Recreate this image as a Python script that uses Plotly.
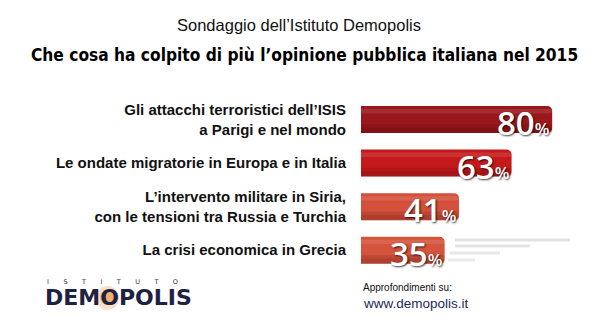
import plotly.graph_objects as go

# ---- data ----
categories = [
    "Gli attacchi terroristici dell’ISIS<br>a Parigi e nel mondo",
    "Le ondate migratorie in Europa e in Italia",
    "L’intervento militare in Siria,<br>con le tensioni tra Russia e Turchia",
    "La crisi economica in Grecia",
]
values = [80, 63, 41, 35]
bar_colors = ["#9A171C", "#C51A1B", "#D4503B", "#D5543E"]

W, H = 600, 330
ML, MR, MT, MB = 361, 0, 92, 58
PW, PH = W - ML - MR, H - MT - MB


def px(xp):
    return (xp - ML) / PW


def py(yp):
    return (H - MB - yp) / PH


fig = go.Figure()

fig.add_trace(go.Bar(
    x=values, y=categories, orientation="h",
    marker=dict(color=bar_colors, line=dict(width=0)),
    width=0.62, offset=-0.31, hoverinfo="skip",
))
fig.add_trace(go.Bar(
    x=values, y=categories, orientation="h",
    marker=dict(color="rgba(40,0,0,0.22)", line=dict(width=0)),
    width=0.12, offset=0.19, hoverinfo="skip",
))
fig.add_trace(go.Bar(
    x=values, y=categories, orientation="h",
    marker=dict(color="rgba(40,0,0,0.12)", line=dict(width=0)),
    width=0.08, offset=0.11, hoverinfo="skip",
))
fig.add_trace(go.Bar(
    x=values, y=categories, orientation="h",
    marker=dict(color="rgba(255,255,255,0.10)", line=dict(width=0)),
    width=0.1, offset=-0.24, hoverinfo="skip",
))

annotations = []
for cat, v in zip(categories, values):
    annotations.append(dict(
        x=v, y=cat, xref="x", yref="y", xanchor="right", yanchor="middle",
        xshift=-1, yshift=-3, showarrow=False,
        text=f"{v}<span style='font-size:17px'>%</span>",
        font=dict(family="Open Sans", size=33, color="white", weight=600,
                  shadow="1px 1px 2px rgba(0,0,0,0.75)"),
    ))


def txt(x, y, text, font, xanchor="left"):
    return dict(x=px(x), y=py(y), xref="paper", yref="paper", xanchor=xanchor,
                yanchor="middle", showarrow=False, text=text, font=font)


spaced = "&nbsp;" * 7
annotations += [
    txt(299, 25, "Sondaggio dell’Istituto Demopolis",
        dict(family="Liberation Sans", size=16.5, color="#111"), "center"),
    txt(304, 55, "<b>Che cosa ha colpito di più l’opinione pubblica italiana nel 2015</b>",
        dict(family="Liberation Sans Narrow, DejaVu Sans Condensed", size=17.2, color="#000"), "center"),
    txt(45, 282, spaced.join("ISTITUTO"),
        dict(family="DejaVu Sans", size=6.5, color="#333")),
    txt(43, 297, "<b>DEMOPOLIS</b>",
        dict(family="DejaVu Sans", size=22, color="#1E2142")),
    txt(361, 287, "Approfondimenti su:",
        dict(family="Liberation Sans", size=10, color="#111")),
    txt(361, 303, "www.demopolis.it",
        dict(family="Liberation Sans", size=13.5, color="#1A2A5C")),
]

shapes = [
    dict(type="circle", xref="paper", yref="paper",
         x0=px(96), x1=px(119), y0=py(310), y1=py(286),
         fillcolor="rgba(235,150,60,0.30)", line=dict(width=0), layer="below"),
    dict(type="circle", xref="paper", yref="paper",
         x0=px(100), x1=px(115), y0=py(305), y1=py(290),
         fillcolor="rgba(230,140,40,0.55)", line=dict(width=0), layer="below"),
]
for x0, x1, yy, op, lw in [(455, 570, 240, 0.18, 3), (455, 530, 246, 0.16, 3),
                           (450, 500, 253, 0.14, 3), (448, 475, 260, 0.12, 3)]:
    shapes.append(dict(type="line", xref="paper", yref="paper",
                       x0=px(x0), x1=px(x1), y0=py(yy), y1=py(yy),
                       line=dict(color=f"rgba(90,90,90,{op})", width=lw), layer="below"))

fig.update_layout(
    width=W, height=H,
    margin=dict(l=ML, r=MR, t=MT, b=MB),
    paper_bgcolor="white", plot_bgcolor="white",
    barmode="overlay", barcornerradius=5,
    showlegend=False,
    xaxis=dict(range=[0, 100], visible=False, fixedrange=True),
    yaxis=dict(autorange="reversed", showgrid=False, showline=False, zeroline=False,
               ticks="", ticklabelstandoff=14,
               tickfont=dict(family="Liberation Sans", size=15, color="#111", weight="bold")),
    annotations=annotations, shapes=shapes,
)

fig.write_html("out.html")
